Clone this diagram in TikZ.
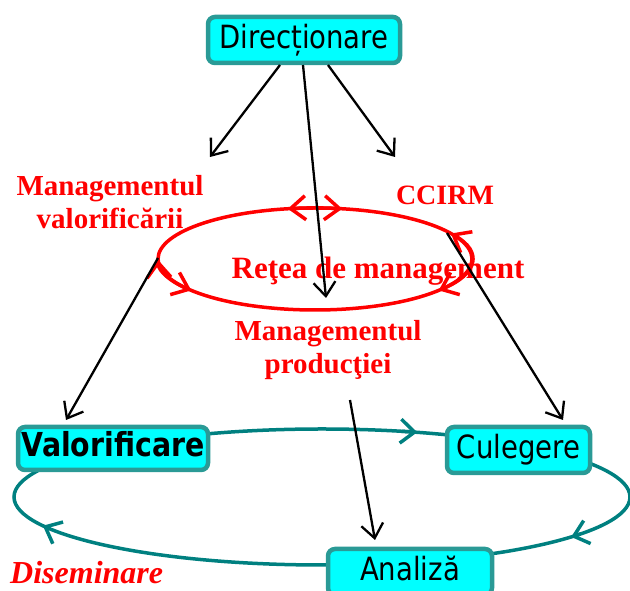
\documentclass[tikz,border=0pt]{standalone}
\usepackage{fontspec}
\setmainfont{Liberation Serif}
\newfontfamily\boxfont{DejaVu Sans}[FakeStretch=0.86]
\usetikzlibrary{arrows.meta}
\definecolor{boxfill}{HTML}{00FFFF}
\definecolor{boxedge}{HTML}{2A9A96}
\definecolor{cyc}{HTML}{008080}
\definecolor{lred}{HTML}{FF0000}
\begin{document}
\begin{tikzpicture}[x=1pt,y=1pt,
  stage/.style={draw=boxedge, fill=boxfill, line width=4.5pt, rounded corners=7pt,
    inner sep=0pt, font=\boxfont\fontsize{32}{38}\selectfont,
    text height=23pt, text depth=6pt},
  redlabel/.style={text=lred, font=\bfseries\fontsize{29}{33}\selectfont, align=center, inner sep=0pt},
  blackarrow/.style={line width=2.3pt, -{Straight Barb[length=14pt,width=22pt]}},
  redarrow/.style={lred, line width=3.5pt,
    {Straight Barb[length=15pt,width=24pt]}-{Straight Barb[length=15pt,width=24pt]}},
  cycarrow/.style={cyc, line width=3.5pt, -{Straight Barb[length=14pt,width=24pt]}},
  ]
\useasboundingbox (0,0) rectangle (630,591);

% teal cycle
\draw[cyc, line width=3.5pt] (322,94) ellipse [x radius=308, y radius=68];
\draw[cycarrow] ([shift={(75:308 and 68)}]322,94) arc[start angle=75, end angle=72, x radius=308, y radius=68];
\draw[cycarrow] ([shift={(-33:308 and 68)}]322,94) arc[start angle=-33, end angle=-36, x radius=308, y radius=68];
\draw[cycarrow] ([shift={(-152:308 and 68)}]322,94) arc[start angle=-152, end angle=-155, x radius=308, y radius=68];

% boxes
\node[stage, minimum width=192pt, minimum height=46pt] (dir) at (304,551) {Direcționare};
\node[stage, minimum width=190pt, minimum height=43pt, font=\boxfont\bfseries\fontsize{33}{38}\selectfont] (val) at (113,142.5) {Valorificare};
\node[stage, minimum width=143pt, minimum height=46pt] (cul) at (518.5,141) {Culegere};
\node[stage, minimum width=164pt, minimum height=46pt] (ana) at (410,19) {Analiză};

% red management network
\draw[lred, line width=3.5pt] (315,332) ellipse [x radius=157, y radius=51];
\draw[redarrow] ([shift={(100:157 and 51)}]315,332) arc[start angle=100, end angle=80, x radius=157, y radius=51];
\draw[redarrow] ([shift={(30:157 and 51)}]315,332) arc[start angle=30, end angle=-38, x radius=157, y radius=51];
\draw[redarrow] ([shift={(181:157 and 51)}]315,332) arc[start angle=181, end angle=218, x radius=157, y radius=51];

% red labels
\node[redlabel] (mv) at (110,389) {Managementul\\valorificării};
\node[redlabel, font=\bfseries\fontsize{28}{33}\selectfont] (cc) at (445,396) {CCIRM};
\node[redlabel, font=\bfseries\fontsize{31}{36}\selectfont] (rt) at (378,320) {Reţea de management};
\node[redlabel] (mp) at (328,241) {Managementul\\producţiei};
\node[text=lred, font=\bfseries\itshape\fontsize{32}{36}\selectfont, anchor=base west, inner sep=0pt] (ds) at (10,7) {Diseminare};

% black arrows
\coordinate (d1) at (280,526);
\coordinate (d2) at (303,526);
\coordinate (d3) at (328,526);
\coordinate (e1) at (210,434);
\coordinate (e3) at (395,434);
\coordinate (rc) at (326,293);
\coordinate (rl) at (158,333);
\coordinate (rr) at (447,358);
\coordinate (mpb) at (350,191);
\coordinate (vt) at (66,171);
\coordinate (ct) at (563,171);
\coordinate (at) at (375,51);
\draw[blackarrow] (d1) -- (e1);
\draw[blackarrow] (d2) -- (rc);
\draw[blackarrow] (d3) -- (e3);
\draw[blackarrow] (rl) -- (vt);
\draw[blackarrow] (rr) -- (ct);
\draw[blackarrow] (mpb) -- (at);
\end{tikzpicture}
\end{document}
